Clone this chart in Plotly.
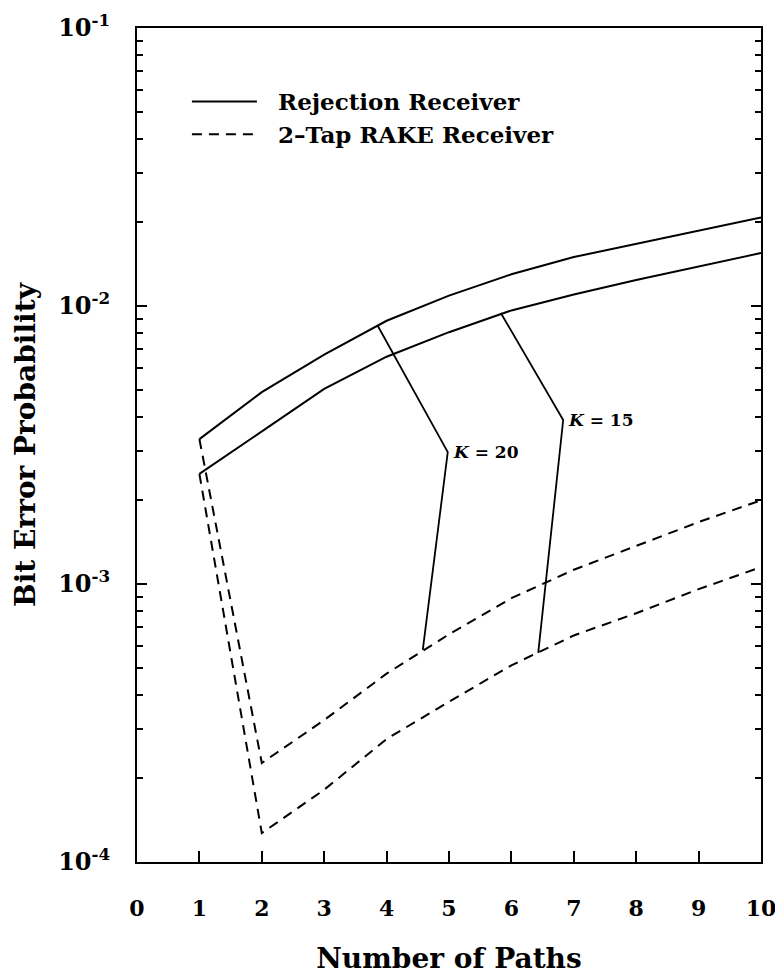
import math
import plotly.graph_objects as go

# Number of resolvable paths
paths = [1, 2, 3, 4, 5, 6, 7, 8, 9, 10]

# Bit error probability, rejection receiver
rej_k20 = [3.32e-3, 4.9e-3, 6.68e-3, 8.85e-3, 1.09e-2, 1.30e-2, 1.50e-2, 1.67e-2, 1.87e-2, 2.08e-2]
rej_k15 = [2.49e-3, 3.55e-3, 5.03e-3, 6.57e-3, 8.05e-3, 9.64e-3, 1.10e-2, 1.24e-2, 1.39e-2, 1.55e-2]

# Bit error probability, 2-tap RAKE receiver
rake_k20 = [3.32e-3, 2.27e-4, 3.24e-4, 4.76e-4, 6.59e-4, 8.89e-4, 1.125e-3, 1.37e-3, 1.67e-3, 2.0e-3]
rake_k15 = [2.49e-3, 1.27e-4, 1.82e-4, 2.77e-4, 3.77e-4, 5.1e-4, 6.53e-4, 7.85e-4, 9.58e-4, 1.15e-3]

# Leader lines tying each pair of curves to its K label (top, elbow, bottom)
lead_k20_x = [3.86, 4.98, 4.58]
lead_k20_y = [8.47e-3, 2.98e-3, 5.79e-4]
lead_k15_x = [5.83, 6.83, 6.43]
lead_k15_y = [9.44e-3, 3.89e-3, 5.65e-4]
labels = ["<i>K</i> = 20", "<i>K</i> = 15"]

# Axis ticks
x_ticks = list(range(0, 11))
y_ticks = [1e-4, 1e-3, 1e-2, 1e-1]
y_tick_text = ["10<sup>-4</sup>", "10<sup>-3</sup>", "10<sup>-2</sup>", "10<sup>-1</sup>"]

FONT = "DejaVu Serif"
INK = "black"
DASH = "10px,7px"
LW = 2

fig = go.Figure()

# en space + thin space opens a gap between legend sample and legend text
fig.add_trace(go.Scatter(x=paths, y=rej_k20, mode="lines", name="\u2002\u2009Rejection Receiver",
                         line=dict(color=INK, width=LW)))
fig.add_trace(go.Scatter(x=paths, y=rej_k15, mode="lines", showlegend=False,
                         line=dict(color=INK, width=LW)))
fig.add_trace(go.Scatter(x=paths, y=rake_k20, mode="lines", name="\u2002\u20092\u2013Tap RAKE Receiver",
                         line=dict(color=INK, width=LW, dash=DASH)))
fig.add_trace(go.Scatter(x=paths, y=rake_k15, mode="lines", showlegend=False,
                         line=dict(color=INK, width=LW, dash=DASH)))

for lx, ly, lab in [(lead_k20_x, lead_k20_y, labels[0]), (lead_k15_x, lead_k15_y, labels[1])]:
    fig.add_trace(go.Scatter(x=lx, y=ly, mode="lines", showlegend=False,
                             line=dict(color=INK, width=1.8)))
    # annotation positions on a log axis are given in log10 units
    fig.add_annotation(x=lx[1], y=math.log10(ly[1]), xref="x", yref="y",
                       text=lab, showarrow=False, xanchor="left", yanchor="middle",
                       xshift=3, font=dict(family=FONT, size=17, color=INK, weight="bold"))

x_tick_font = dict(family=FONT, size=22, color=INK, weight="bold")
y_tick_font = dict(family=FONT, size=24, color=INK, weight="bold")
title_font = dict(family=FONT, size=28, color=INK, weight="bold")

fig.update_xaxes(
    range=[0, 10], tickvals=x_ticks, ticks="inside", ticklen=11, tickwidth=1.5,
    tickcolor=INK, showline=True, linewidth=2, linecolor=INK, mirror=True,
    showgrid=False, zeroline=False, tickfont=x_tick_font, ticklabelstandoff=26,
    ticklabeloverflow="allow", automargin=False,
    title=dict(text="Number of Paths", font=title_font, standoff=38),
)
fig.update_yaxes(
    type="log", range=[-4, -1], tickvals=y_ticks, ticktext=y_tick_text,
    ticks="inside", ticklen=10, tickwidth=1.5, tickcolor=INK,
    showline=True, linewidth=2, linecolor=INK, mirror="ticks",
    showgrid=False, zeroline=False, tickfont=y_tick_font, ticklabelstandoff=20,
    ticklabeloverflow="allow", automargin=False,
    minor=dict(ticks="inside", ticklen=6, tickwidth=1.5, tickcolor=INK, dtick="D1", showgrid=False),
    title=dict(text="Bit Error Probability", font=title_font, standoff=14),
)

fig.update_layout(
    width=775, height=975,
    margin=dict(l=137, r=14, t=28, b=113),
    paper_bgcolor="white", plot_bgcolor="white",
    font=dict(family=FONT, color=INK),
    showlegend=True,
    legend=dict(x=0.08, y=0.9377, xanchor="left", yanchor="top",
                bgcolor="rgba(0,0,0,0)", itemwidth=65, tracegroupgap=0,
                font=dict(family=FONT, size=23, color=INK, weight="bold")),
)

fig.write_html("out.html")
